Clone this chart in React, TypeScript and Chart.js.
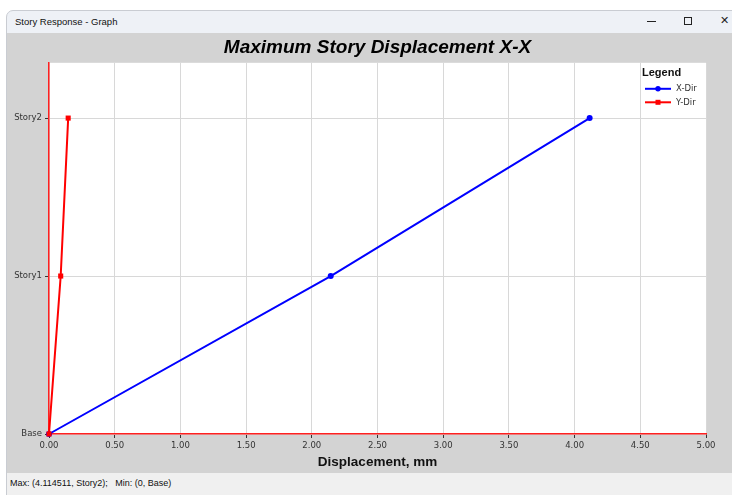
import React, { useEffect, useRef } from "react";
import { Chart, registerables } from "chart.js";

Chart.register(...registerables);

// ---- data ----
const stories = ["Base", "Story1", "Story2"];
const xDirDisp = [0, 2.144, 4.114511];
const yDirDisp = [0, 0.089, 0.146];
const seriesLabels = ["X-Dir", "Y-Dir"];
const seriesColors = ["#0000ff", "#ff0000"];
const seriesPointStyles = ["circle", "rect"];
const xMin = 0;
const xMax = 5;
const xStep = 0.5;
const yTop = 2.35;

const chartTitle = "Maximum Story Displacement X-X";
const xAxisTitle = "Displacement, mm";
const windowTitle = "Story Response - Graph";
const statusText = "Max: (4.114511, Story2);   Min: (0, Base)";

const TICK_FONT = "DejaVu Sans";

const plotBgPlugin = {
  id: "plotBg",
  beforeDraw(chart: any) {
    const { ctx, chartArea } = chart;
    ctx.save();
    ctx.fillStyle = "#ffffff";
    ctx.fillRect(chartArea.left, chartArea.top, chartArea.right - chartArea.left, chartArea.bottom - chartArea.top);
    ctx.restore();
  },
};

const legendPlugin = {
  id: "storyLegend",
  afterDatasetsDraw(chart: any) {
    const { ctx, chartArea } = chart;
    const x0 = chartArea.right - 64;
    ctx.save();
    ctx.textBaseline = "middle";
    ctx.textAlign = "left";
    ctx.fillStyle = "#111";
    ctx.font = 'bold 11px "Liberation Sans"';
    ctx.fillText("Legend", x0, chartArea.top + 10);
    chart.data.datasets.forEach((ds: any, i: number) => {
      const yy = chartArea.top + 26 + i * 13.5;
      ctx.strokeStyle = ds.borderColor;
      ctx.lineWidth = 2;
      ctx.beginPath();
      ctx.moveTo(x0 + 3, yy);
      ctx.lineTo(x0 + 29, yy);
      ctx.stroke();
      ctx.fillStyle = ds.borderColor;
      const mx = x0 + 16;
      if (ds.pointStyle === "rect") {
        ctx.fillRect(mx - 2.5, yy - 2.5, 5, 5);
      } else {
        ctx.beginPath();
        ctx.arc(mx, yy, 2.7, 0, Math.PI * 2);
        ctx.fill();
      }
      ctx.fillStyle = "#333";
      ctx.font = `8.5px "${TICK_FONT}"`;
      ctx.fillText(ds.label, x0 + 34, yy);
    });
    ctx.restore();
  },
};

function StoryChart() {
  const ref = useRef<HTMLCanvasElement | null>(null);
  useEffect(() => {
    if (!ref.current) return;
    const datasets = [xDirDisp, yDirDisp].map((vals, si) => ({
      label: seriesLabels[si],
      data: vals.map((v, i) => ({ x: v, y: i })),
      borderColor: seriesColors[si],
      backgroundColor: seriesColors[si],
      pointBackgroundColor: seriesColors[si],
      pointBorderColor: seriesColors[si],
      pointStyle: seriesPointStyles[si],
      pointRadius: si === 0 ? 3 : 3.6,
      pointBorderWidth: 0,
      borderWidth: 2,
      tension: 0,
      clip: false as any,
      order: si === 0 ? 1 : 0,
      showLine: true,
    }));
    const chart = new Chart(ref.current, {
      type: "scatter",
      data: { datasets },
      plugins: [plotBgPlugin, legendPlugin],
      options: {
        animation: false,
        responsive: false,
        devicePixelRatio: 1,
        events: [],
        layout: { padding: { left: 0, right: 26, top: 0, bottom: 0 } },
        plugins: {
          legend: { display: false },
          tooltip: { enabled: false },
          title: {
            display: true,
            text: chartTitle,
            fullSize: false,
            color: "#000",
            font: { family: "Liberation Sans", size: 19, weight: "bold", style: "italic" },
            padding: { top: 3, bottom: 4 },
          },
        },
        scales: {
          x: {
            type: "linear",
            min: xMin,
            max: xMax,
            afterFit: (s: any) => {
              s.height = 39;
            },
            ticks: {
              stepSize: xStep,
              padding: 3,
              color: "#333",
              font: { family: TICK_FONT, size: 8.5 },
              callback: (v: any) => Number(v).toFixed(2),
              maxRotation: 0,
              autoSkip: false,
            },
            grid: { color: "#d8d8d8", tickLength: 4, tickColor: "#333", lineWidth: 1 },
            border: { color: "#ff2020", width: 1.5 },
            title: {
              display: true,
              text: xAxisTitle,
              color: "#111",
              font: { family: "Liberation Sans", size: 13.5, weight: "bold" },
              padding: { top: 0, bottom: 3 },
            },
          },
          y: {
            type: "linear",
            min: 0,
            max: yTop,
            afterFit: (s: any) => {
              s.width = 42;
            },
            afterBuildTicks: (axis: any) => {
              axis.ticks = stories.map((_, i) => ({ value: i }));
            },
            ticks: {
              padding: 3,
              color: "#333",
              font: { family: TICK_FONT, size: 8.5 },
              callback: (v: any) => stories[v] ?? "",
              autoSkip: false,
            },
            grid: { color: "#d8d8d8", tickLength: 4, tickColor: "#333", lineWidth: 1 },
            border: { color: "#ff2020", width: 1.5 },
          },
        },
      } as any,
    });
    return () => chart.destroy();
  }, []);
  return <canvas ref={ref} width={725} height={440} style={{ display: "block", width: 725, height: 440 }} />;
}

export default function App() {
  useEffect(() => {
    document.body.style.margin = "0";
  }, []);
  return (
    <div style={{ position: "fixed", left: 0, top: 0, width: 732, height: 495, background: "#fff", overflow: "hidden" }}>
      <div
        style={{
          position: "absolute",
          left: 6,
          top: 10,
          width: 740,
          height: 500,
          border: "1px solid #c9ccd2",
          borderTopLeftRadius: 7,
          background: "#eef1f6",
          boxSizing: "border-box",
        }}
      />
      <div
        style={{
          position: "absolute",
          left: 15,
          top: 14,
          height: 16,
          lineHeight: "16px",
          fontFamily: "Liberation Sans",
          fontSize: 9.5,
          color: "#111",
          whiteSpace: "pre",
        }}
      >
        {windowTitle}
      </div>
      <div style={{ position: "absolute", left: 647, top: 21, width: 9, height: 1, background: "#222" }} />
      <div style={{ position: "absolute", left: 684, top: 17, width: 8, height: 8, border: "1px solid #222", boxSizing: "border-box" }} />
      <div
        style={{
          position: "absolute",
          left: 720,
          top: 13,
          fontFamily: "DejaVu Sans",
          fontSize: 11,
          lineHeight: "16px",
          color: "#222",
        }}
      >
        ✕
      </div>
      <div style={{ position: "absolute", left: 7, top: 33, width: 725, height: 440, background: "#d3d3d3" }}>
        <StoryChart />
      </div>
      <div style={{ position: "absolute", left: 7, top: 473, width: 725, height: 22, background: "#f0f0f0" }}>
        <div
          style={{
            position: "absolute",
            left: 3,
            top: 3,
            lineHeight: "14px",
            fontFamily: "Liberation Sans",
            fontSize: 9,
            color: "#111",
            whiteSpace: "pre",
          }}
        >
          {statusText}
        </div>
      </div>
    </div>
  );
}
